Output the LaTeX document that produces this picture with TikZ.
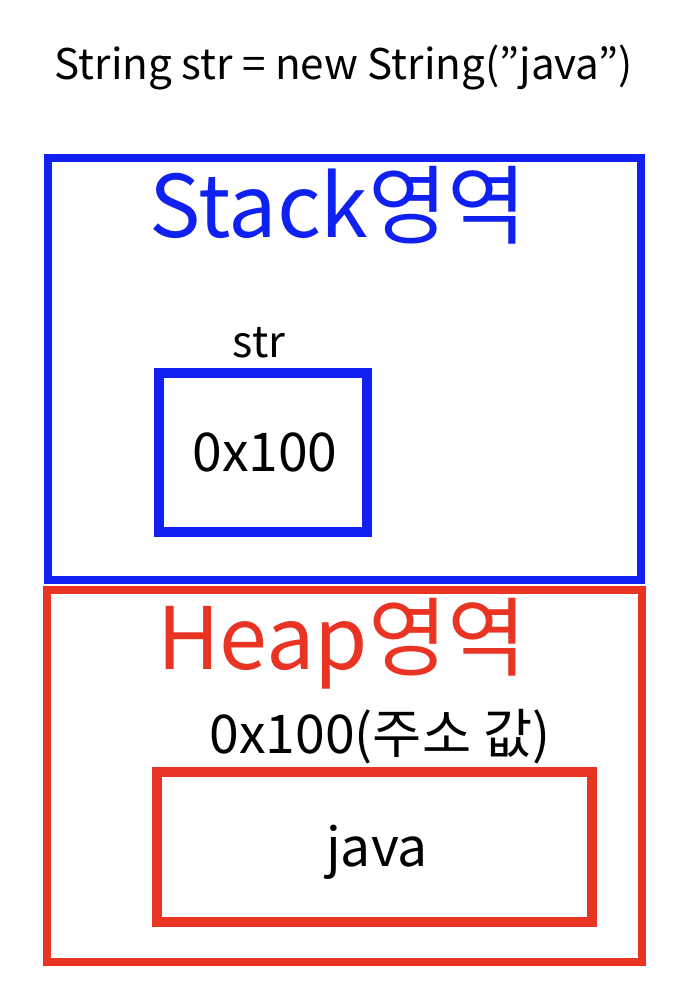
\documentclass[tikz,border=0pt]{standalone}
\usepackage{fontspec}
\setmainfont{Noto Sans CJK KR}
\definecolor{stackblue}{RGB}{16,32,240}
\definecolor{heapred}{RGB}{233,51,35}
\tikzset{
  areabox/.style={line width=0.08cm},
  cellbox/.style={line width=0.095cm},
  areatitle/.style={anchor=base, inner sep=0pt, font=\fontsize{24.5}{29}\selectfont},
  celltext/.style={anchor=base, inner sep=0pt, font=\fontsize{15.2}{18}\selectfont},
}
\begin{document}
\begin{tikzpicture}[x=0.01cm,y=-0.01cm]
\useasboundingbox (0,0) rectangle (682,1000);
\node[anchor=base, inner sep=0pt, font=\fontsize{12}{14}\selectfont] (code) at (344,79) {String str = new String(”java”)};
% Stack
\draw[stackblue, areabox] (48,158) rectangle (641,580);
\node[areatitle, stackblue] (stacktitle) at (338,237) {Stack영역};
\node[anchor=base, inner sep=0pt, font=\fontsize{12.3}{14}\selectfont] (strname) at (259,357) {str};
\draw[stackblue, cellbox] (159,373) rectangle (367,532);
\node[celltext] (strvalue) at (265,471) {0x100};
% Heap
\draw[heapred, areabox] (47,590) rectangle (642,962);
\node[areatitle, heapred] (heaptitle) at (342,669) {Heap영역};
\node[celltext] (address) at (380,753) {0x100(주소 값)};
\draw[heapred, cellbox] (157,772) rectangle (592,922);
\node[celltext] (javavalue) at (377,866) {java};
\end{tikzpicture}
\end{document}
